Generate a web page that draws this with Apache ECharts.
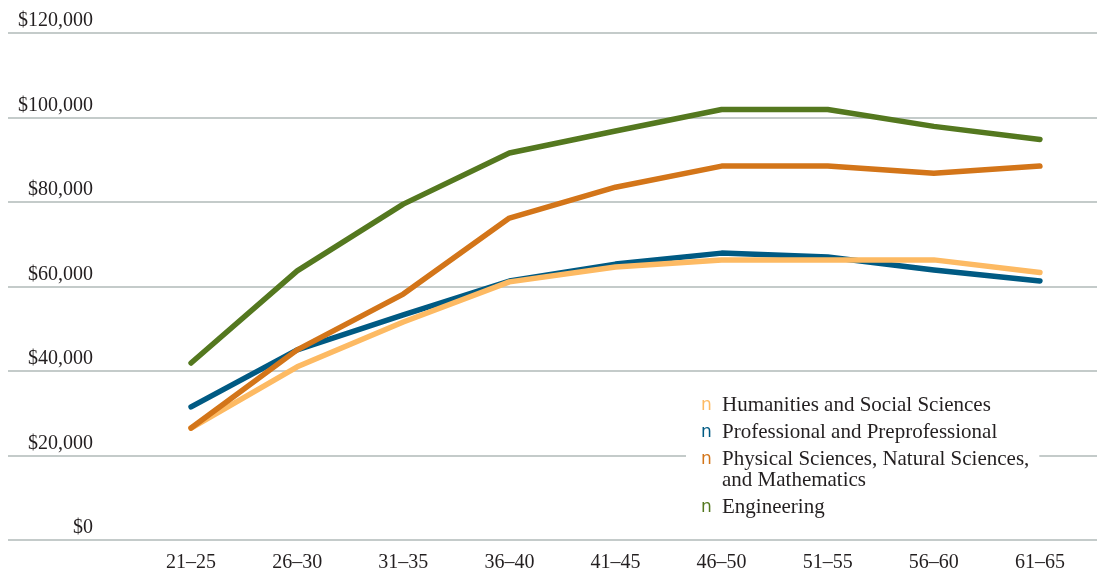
<!DOCTYPE html>
<html>
<head>
<meta charset="utf-8">
<script src="https://cdn.jsdelivr.net/npm/echarts@6/dist/echarts.min.js"></script>
<style>
html,body{margin:0;padding:0;background:#fff;}
#chart{width:1097px;height:574px;}
</style>
</head>
<body>
<div id="chart"></div>
<script>
const categories = ['21–25', '26–30', '31–35', '36–40', '41–45', '46–50', '51–55', '56–60', '61–65'];
const seriesNames = ['Humanities and Social Sciences', 'Professional and Preprofessional', 'Physical Sciences, Natural Sciences, and Mathematics', 'Engineering'];
const humanities = [26500, 41000, 51600, 61100, 64600, 66300, 66300, 66300, 63300];
const professional = [31500, 45000, 53300, 61300, 65300, 67900, 67000, 63900, 61300];
const physical = [26500, 45000, 58200, 76200, 83500, 88500, 88500, 86800, 88500];
const engineering = [41900, 63700, 79500, 91600, 96800, 101900, 101900, 97900, 94800];
const yTicks = { min: 0, max: 120000, interval: 20000 };

const colors = ['#FDBA63', '#005A83', '#D37519', '#54781F'];
const FONT = '"Liberation Serif", "DejaVu Serif", serif';
const TEXT = '#231f20';

const chart = echarts.init(document.getElementById('chart'), null, { renderer: 'canvas' });

function fmtMoney(v) {
  return '$' + v.toLocaleString('en-US');
}

const rich = {
  t: { fontFamily: FONT, fontSize: 21, color: TEXT, lineHeight: 21 },
  sp: { width: 21, lineHeight: 21 }
};
colors.forEach((c, i) => {
  rich['n' + i] = { fontFamily: '"DejaVu Sans", sans-serif', fontSize: 17, color: c, width: 21, lineHeight: 21 };
});

const dataSets = [humanities, professional, physical, engineering];
const zs = [3, 2, 4, 5];

chart.setOption({
  animation: false,
  backgroundColor: '#fff',
  grid: [
    { left: 8, right: 0, top: 33, bottom: 34 },
    { left: 138, right: 4, top: 33, bottom: 34 }
  ],
  xAxis: [
    { gridIndex: 0, type: 'value', show: false, min: 0, max: 1 },
    {
      gridIndex: 1, type: 'category', data: categories, boundaryGap: true,
      axisLine: { show: false }, axisTick: { show: false },
      axisLabel: { fontFamily: FONT, fontSize: 20, color: TEXT, margin: 13 }
    }
  ],
  yAxis: [
    {
      gridIndex: 0, type: 'value', min: yTicks.min, max: yTicks.max, interval: yTicks.interval,
      axisLine: { show: false }, axisTick: { show: false },
      splitLine: { show: true, lineStyle: { color: '#c4cbca', width: 2 } },
      axisLabel: {
        inside: true, margin: 85, align: 'right', verticalAlign: 'bottom',
        fontFamily: FONT, fontSize: 20, color: TEXT, padding: [0, 0, 2, 0],
        formatter: fmtMoney
      }
    },
    {
      gridIndex: 1, type: 'value', min: yTicks.min, max: yTicks.max, interval: yTicks.interval,
      show: false, splitLine: { show: false }
    }
  ],
  legend: {
    orient: 'vertical',
    left: 686, top: 389,
    padding: [6, 10, 6, 10],
    backgroundColor: '#fff',
    icon: 'none',
    itemWidth: 0, itemHeight: 0,
    itemGap: 6,
    data: seriesNames,
    textStyle: { fontFamily: FONT, fontSize: 21, color: TEXT, lineHeight: 21, rich: rich },
    formatter: function (name) {
      const i = seriesNames.indexOf(name);
      const parts = name.split(', and ');
      if (parts.length > 1) {
        return '{n' + i + '|n}{t|' + parts[0] + ',}\n{sp|}{t|and ' + parts[1] + '}';
      }
      return '{n' + i + '|n}{t|' + name + '}';
    }
  },
  series: dataSets.map((d, i) => ({
    name: seriesNames[i],
    type: 'line',
    xAxisIndex: 1, yAxisIndex: 1,
    data: d,
    z: zs[i],
    symbol: 'none',
    color: colors[i],
    lineStyle: { color: colors[i], width: 5.5, cap: 'round', join: 'round' }
  }))
});
</script>
</body>
</html>
